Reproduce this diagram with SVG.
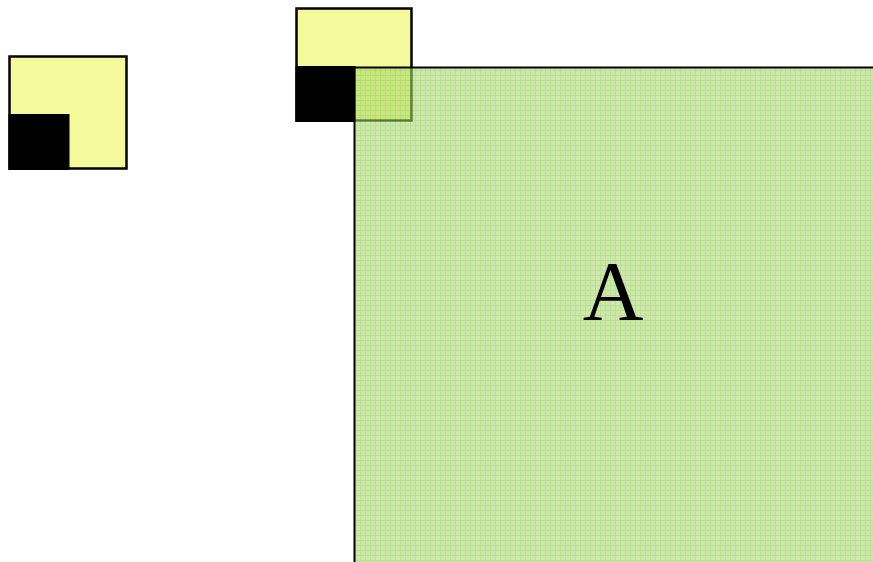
<svg xmlns="http://www.w3.org/2000/svg" width="873" height="562" viewBox="0 0 873 562">
<style>
.sq{fill:#f4f99c;stroke:#000;stroke-width:2.5}
.blk{fill:#000}
.lbl{font-family:"Liberation Serif","DejaVu Serif",serif;font-size:84px;fill:#000}
</style>
<defs>
<pattern id="grid" x="0" y="0" width="5" height="5" patternUnits="userSpaceOnUse">
<rect width="5" height="5" fill="#acd971"/>
<path d="M0 0.5H5M0.5 0V5" stroke="#8ccc4c" stroke-width="1"/>
</pattern>
</defs>
<g id="small-square">
<rect class="sq" x="9.5" y="56.5" width="117" height="112"/>
<rect class="blk" x="8.5" y="114" width="61" height="56"/>
</g>
<g id="top-square">
<rect class="sq" x="296.5" y="8.5" width="115" height="112"/>
<rect class="blk" x="295.5" y="66" width="60" height="56"/>
</g>
<g id="A">
<rect x="354.5" y="67.5" width="530" height="510" fill="url(#grid)" fill-opacity="0.6" stroke="#000" stroke-width="2"/>
<text class="lbl" x="613" y="320" text-anchor="middle">A</text>
</g>
<g id="connectors"/>
</svg>
